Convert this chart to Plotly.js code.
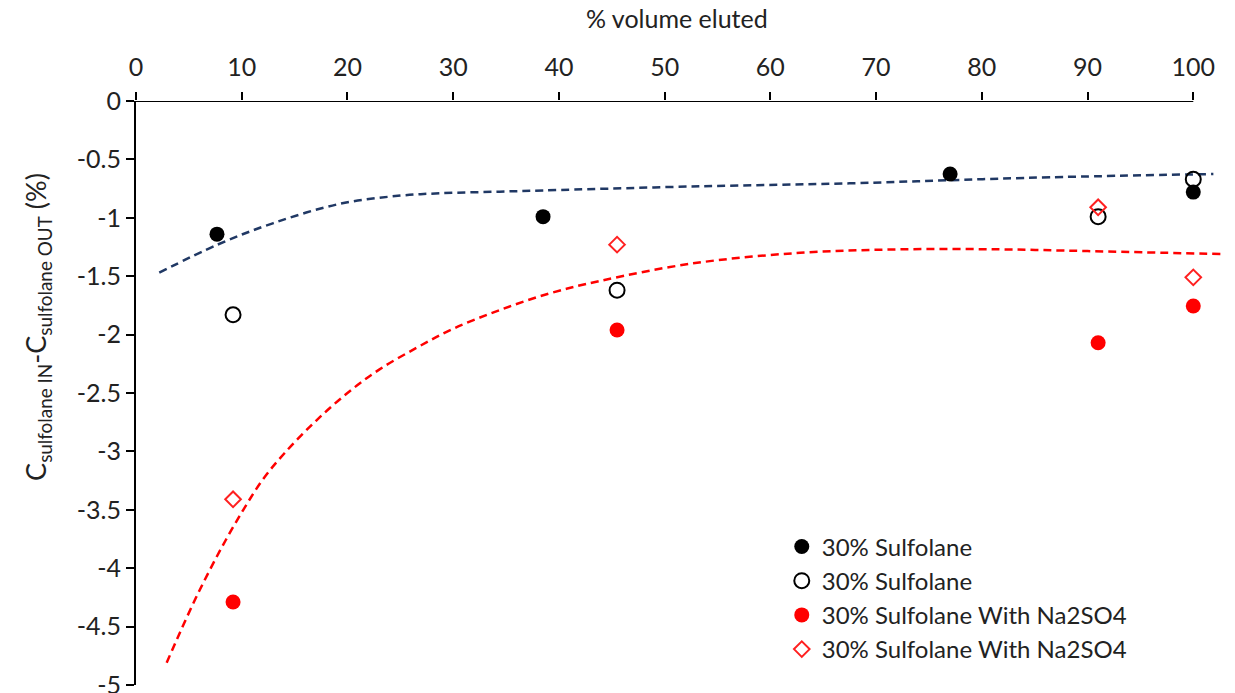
<!DOCTYPE html>
<html>
<head>
<meta charset="utf-8">
<script src="https://cdn.plot.ly/plotly-3.0.1.min.js"></script>
<style>html,body{margin:0;padding:0;background:#fff;}#chart{width:1235px;height:693px;}</style>
</head>
<body>
<div id="chart"></div>
<script>
// Series data
const blackFilledX = [7.66, 38.5, 77.0, 100];
const blackFilledY = [-1.14, -0.99, -0.625, -0.78];
const blackOpenX = [9.18, 45.5, 91.0, 100];
const blackOpenY = [-1.83, -1.62, -0.99, -0.67];
const redFilledX = [9.18, 45.5, 91.0, 100];
const redFilledY = [-4.29, -1.96, -2.07, -1.755];
const redDiamondX = [9.18, 45.5, 91.0, 100];
const redDiamondY = [-3.41, -1.23, -0.91, -1.51];

// Trend lines
const navyTrendX = [2.2, 7.7, 13.0, 19.3, 25, 28.8, 34.4, 40, 53.4, 67.5, 77, 86.5, 101.9];
const navyTrendY = [-1.47, -1.23, -1.045, -0.88, -0.81, -0.79, -0.776, -0.762, -0.73, -0.705, -0.678, -0.653, -0.625];
const redTrendX = [2.9, 4.16, 5.9, 8.0, 10.15, 12, 14, 17, 20, 23, 26.6, 30, 34.4, 39.2, 43.9, 52.7, 62.8, 72.3, 81.7, 90, 102.6];
const redTrendY = [-4.81, -4.55, -4.21, -3.84, -3.50, -3.24, -3.02, -2.74, -2.50, -2.30, -2.11, -1.95, -1.79, -1.645, -1.54, -1.39, -1.30, -1.27, -1.27, -1.285, -1.31];

// Tick labels
const xTickVals = [0, 10, 20, 30, 40, 50, 60, 70, 80, 90, 100];
const xTickText = ['0', '10', '20', '30', '40', '50', '60', '70', '80', '90', '100'];
const yTickVals = [0, -0.5, -1, -1.5, -2, -2.5, -3, -3.5, -4, -4.5, -5];
const yTickText = ['0', '-0.5', '-1', '-1.5', '-2', '-2.5', '-3', '-3.5', '-4', '-4.5', '-5'];

const seriesName = '30% Sulfolane';
const seriesNameNa = '30% Sulfolane With Na2SO4';
const xTitle = '% volume eluted';
const yTitle = 'C<sub>sulfolane IN</sub>-C<sub>sulfolane OUT</sub> (%)';

const FONT = 'Lato, "Open Sans", sans-serif';
const FS = 25;

const traces = [
  {x: navyTrendX, y: navyTrendY, mode: 'lines', line: {color: '#203864', width: 2.5, dash: '8px,5px', shape: 'spline'}, showlegend: false, hoverinfo: 'skip'},
  {x: redTrendX, y: redTrendY, mode: 'lines', line: {color: '#FF0000', width: 2.5, dash: '8px,5px', shape: 'spline'}, showlegend: false, hoverinfo: 'skip'},
  {x: blackFilledX, y: blackFilledY, mode: 'markers', name: seriesName, marker: {symbol: 'circle', size: 15, color: '#000000'}},
  {x: blackOpenX, y: blackOpenY, mode: 'markers', name: seriesName, marker: {symbol: 'circle-open', size: 15, color: '#000000', line: {width: 2}}},
  {x: redFilledX, y: redFilledY, mode: 'markers', name: seriesNameNa, marker: {symbol: 'circle', size: 15, color: '#FF0000'}},
  {x: redDiamondX, y: redDiamondY, mode: 'markers', name: seriesNameNa, marker: {symbol: 'diamond-open', size: 12, color: '#FF2020', line: {width: 2}}}
];

const layout = {
  width: 1235, height: 693,
  margin: {l: 136, r: 10, t: 101, b: 8, pad: 0},
  paper_bgcolor: '#ffffff', plot_bgcolor: '#ffffff',
  font: {family: FONT, size: FS, color: '#222222'},
  showlegend: true,
  legend: {x: 0.593, y: 0.275, xanchor: 'left', yanchor: 'top', bgcolor: 'rgba(0,0,0,0)', font: {family: FONT, size: 24, color: '#222222'}, traceorder: 'normal'},
  xaxis: {
    side: 'top', range: [0, 103], showgrid: false, zeroline: false, showline: false,
    tickmode: 'array', tickvals: xTickVals, ticktext: xTickText,
    ticks: 'outside', ticklen: 8, tickwidth: 2, tickcolor: '#000000',
    ticklabelstandoff: 6,
    tickfont: {family: FONT, size: FS, color: '#222222'}
  },
  yaxis: {
    range: [-5, 0], showgrid: false, zeroline: false, showline: true, linecolor: '#000000', linewidth: 2,
    tickmode: 'array', tickvals: yTickVals, ticktext: yTickText,
    ticks: 'outside', ticklen: 8, tickwidth: 2, tickcolor: '#000000',
    ticklabeloverflow: 'allow',
    tickfont: {family: FONT, size: FS, color: '#222222'}
  },
  shapes: [
    {type: 'line', xref: 'x', yref: 'y', x0: 0, x1: 100, y0: 0, y1: 0, line: {color: '#000000', width: 2}}
  ],
  annotations: [
    {text: xTitle, xref: 'paper', yref: 'paper', x: 0.497, y: 1, xanchor: 'center', yanchor: 'middle', yshift: 83, showarrow: false, font: {family: FONT, size: FS, color: '#222222'}},
    {text: yTitle, xref: 'paper', yref: 'paper', x: -0.091, y: 0.613, xanchor: 'center', yanchor: 'middle', textangle: -90, showarrow: false, font: {family: FONT, size: 27, color: '#222222'}}
  ]
};

Plotly.newPlot('chart', traces, layout, {displayModeBar: false, staticPlot: true});
</script>
</body>
</html>
